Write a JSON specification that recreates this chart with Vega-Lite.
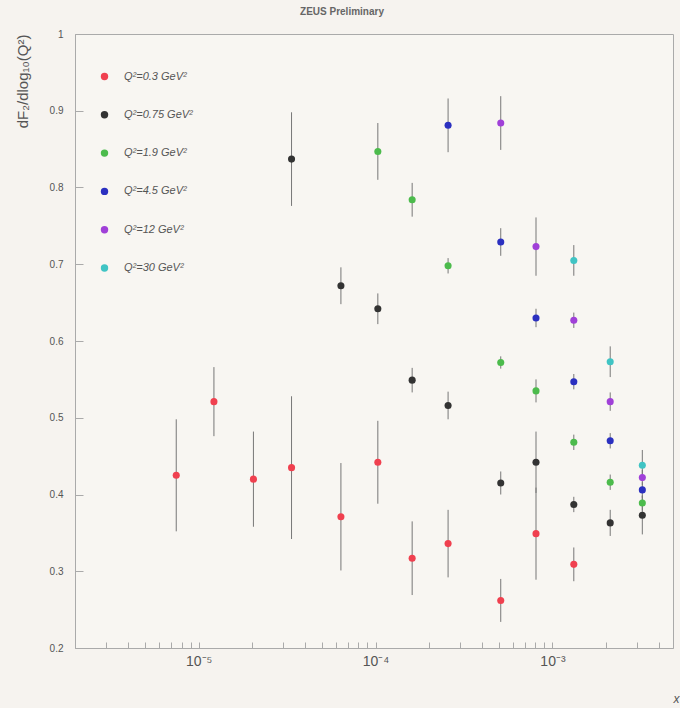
{
  "$schema": "https://vega.github.io/schema/vega-lite/v6.json",
  "autosize": {"type": "none"},
  "width": 598,
  "height": 614,
  "padding": {"left": 75, "top": 34, "right": 7, "bottom": 60},
  "background": "#f6f3ef",
  "title": {"text": "ZEUS Preliminary", "fontSize": 10, "font": "Liberation Sans", "fontWeight": "bold", "color": "#666", "offset": 12, "anchor": "middle", "dx": -32},
  "config": {
    "view": {"stroke": "#aaa", "strokeWidth": 1, "fill": "#f8f6f2"},
    "axis": {"labelFont": "Liberation Sans", "titleFont": "Liberation Sans", "labelColor": "#555", "titleColor": "#555", "domainColor": "#aaa", "tickColor": "#aaa", "grid": false}
  },
  "data": {"values": [
    {"x": 7.47e-6, "y": 0.425, "err": 0.073, "q": "Q²=0.3 GeV²"},
    {"x": 1.22e-5, "y": 0.521, "err": 0.045, "q": "Q²=0.3 GeV²"},
    {"x": 2.04e-5, "y": 0.420, "err": 0.062, "q": "Q²=0.3 GeV²"},
    {"x": 3.35e-5, "y": 0.435, "err": 0.093, "q": "Q²=0.3 GeV²"},
    {"x": 6.37e-5, "y": 0.371, "err": 0.070, "q": "Q²=0.3 GeV²"},
    {"x": 1.03e-4, "y": 0.442, "err": 0.054, "q": "Q²=0.3 GeV²"},
    {"x": 1.61e-4, "y": 0.317, "err": 0.048, "q": "Q²=0.3 GeV²"},
    {"x": 2.57e-4, "y": 0.336, "err": 0.044, "q": "Q²=0.3 GeV²"},
    {"x": 5.1e-4, "y": 0.262, "err": 0.028, "q": "Q²=0.3 GeV²"},
    {"x": 8.07e-4, "y": 0.349, "err": 0.060, "q": "Q²=0.3 GeV²"},
    {"x": 1.32e-3, "y": 0.309, "err": 0.022, "q": "Q²=0.3 GeV²"},
    {"x": 3.35e-5, "y": 0.837, "err": 0.061, "q": "Q²=0.75 GeV²"},
    {"x": 6.37e-5, "y": 0.672, "err": 0.024, "q": "Q²=0.75 GeV²"},
    {"x": 1.03e-4, "y": 0.642, "err": 0.020, "q": "Q²=0.75 GeV²"},
    {"x": 1.61e-4, "y": 0.549, "err": 0.016, "q": "Q²=0.75 GeV²"},
    {"x": 2.57e-4, "y": 0.516, "err": 0.018, "q": "Q²=0.75 GeV²"},
    {"x": 5.1e-4, "y": 0.415, "err": 0.015, "q": "Q²=0.75 GeV²"},
    {"x": 8.07e-4, "y": 0.442, "err": 0.040, "q": "Q²=0.75 GeV²"},
    {"x": 1.32e-3, "y": 0.387, "err": 0.010, "q": "Q²=0.75 GeV²"},
    {"x": 2.12e-3, "y": 0.363, "err": 0.017, "q": "Q²=0.75 GeV²"},
    {"x": 3.22e-3, "y": 0.373, "err": 0.025, "q": "Q²=0.75 GeV²"},
    {"x": 1.03e-4, "y": 0.847, "err": 0.037, "q": "Q²=1.9 GeV²"},
    {"x": 1.61e-4, "y": 0.784, "err": 0.022, "q": "Q²=1.9 GeV²"},
    {"x": 2.57e-4, "y": 0.698, "err": 0.010, "q": "Q²=1.9 GeV²"},
    {"x": 5.1e-4, "y": 0.572, "err": 0.008, "q": "Q²=1.9 GeV²"},
    {"x": 8.07e-4, "y": 0.535, "err": 0.015, "q": "Q²=1.9 GeV²"},
    {"x": 1.32e-3, "y": 0.468, "err": 0.010, "q": "Q²=1.9 GeV²"},
    {"x": 2.12e-3, "y": 0.416, "err": 0.010, "q": "Q²=1.9 GeV²"},
    {"x": 3.22e-3, "y": 0.389, "err": 0.010, "q": "Q²=1.9 GeV²"},
    {"x": 2.57e-4, "y": 0.881, "err": 0.035, "q": "Q²=4.5 GeV²"},
    {"x": 5.1e-4, "y": 0.729, "err": 0.018, "q": "Q²=4.5 GeV²"},
    {"x": 8.07e-4, "y": 0.630, "err": 0.012, "q": "Q²=4.5 GeV²"},
    {"x": 1.32e-3, "y": 0.547, "err": 0.010, "q": "Q²=4.5 GeV²"},
    {"x": 2.12e-3, "y": 0.470, "err": 0.010, "q": "Q²=4.5 GeV²"},
    {"x": 3.22e-3, "y": 0.406, "err": 0.010, "q": "Q²=4.5 GeV²"},
    {"x": 5.1e-4, "y": 0.884, "err": 0.035, "q": "Q²=12 GeV²"},
    {"x": 8.07e-4, "y": 0.723, "err": 0.038, "q": "Q²=12 GeV²"},
    {"x": 1.32e-3, "y": 0.627, "err": 0.010, "q": "Q²=12 GeV²"},
    {"x": 2.12e-3, "y": 0.521, "err": 0.012, "q": "Q²=12 GeV²"},
    {"x": 3.22e-3, "y": 0.422, "err": 0.010, "q": "Q²=12 GeV²"},
    {"x": 1.32e-3, "y": 0.705, "err": 0.020, "q": "Q²=30 GeV²"},
    {"x": 2.12e-3, "y": 0.573, "err": 0.020, "q": "Q²=30 GeV²"},
    {"x": 3.22e-3, "y": 0.438, "err": 0.020, "q": "Q²=30 GeV²"}
  ]},
  "encoding": {
    "x": {"field": "x", "type": "quantitative",
      "scale": {"type": "log", "domain": [2e-6, 4.8e-3], "nice": false},
      "axis": {
        "values": [2e-6,3e-6,4e-6,5e-6,6e-6,7e-6,8e-6,9e-6,1e-5,2e-5,3e-5,4e-5,5e-5,6e-5,7e-5,8e-5,9e-5,1e-4,2e-4,3e-4,4e-4,5e-4,6e-4,7e-4,8e-4,9e-4,1e-3,2e-3,3e-3,4e-3],
        "labelExpr": "abs(log(datum.value)/LN10 - round(log(datum.value)/LN10)) < 0.001 ? '10⁻' + ['⁰','¹','²','³','⁴','⁵','⁶'][-round(log(datum.value)/LN10)] : ''",
        "labelFontSize": 14, "labelPadding": 12, "tickSize": -6, "labelOverlap": false,
        "title": "x", "titleFontSize": 12, "titleFontStyle": "italic", "titleFontWeight": "normal", "titleAlign": "center", "titleBaseline": "middle", "titlePadding": 30, "titleX": 601
      }
    },
    "y": {"field": "y", "type": "quantitative",
      "scale": {"domain": [0.2, 1], "nice": false, "zero": false},
      "axis": {
        "values": [0.2,0.3,0.4,0.5,0.6,0.7,0.8,0.9,1],
        "labelExpr": "datum.value == 1 ? '1' : format(datum.value, '.1f')",
        "labelFontSize": 10, "labelPadding": 20, "tickSize": -8,
        "title": "dF₂/dlog₁₀(Q²)", "titleFontSize": 15, "titleFontWeight": "normal", "titleAnchor": "end", "titlePadding": 19
      }
    }
  },
  "layer": [
    {
      "mark": {"type": "errorbar", "color": "#777", "thickness": 1},
      "encoding": {"yError": {"field": "err"}}
    },
    {
      "mark": {"type": "circle", "opacity": 1, "size": 50},
      "encoding": {
        "color": {"field": "q", "type": "nominal",
          "scale": {"domain": ["Q²=0.3 GeV²", "Q²=0.75 GeV²", "Q²=1.9 GeV²", "Q²=4.5 GeV²", "Q²=12 GeV²", "Q²=30 GeV²"],
                    "range": ["#f0404f", "#333333", "#4cbb4c", "#2b30c0", "#a040d8", "#40c4c4"]},
          "legend": {"orient": "none", "legendX": 24, "legendY": 37, "title": null,
            "symbolType": "circle", "symbolSize": 55, "symbolStrokeWidth": 0, "symbolOpacity": 1,
            "labelFont": "Liberation Sans", "labelFontSize": 11, "labelFontStyle": "italic", "labelColor": "#555",
            "labelOffset": 14, "rowPadding": 26.3}
        }
      }
    }
  ]
}
